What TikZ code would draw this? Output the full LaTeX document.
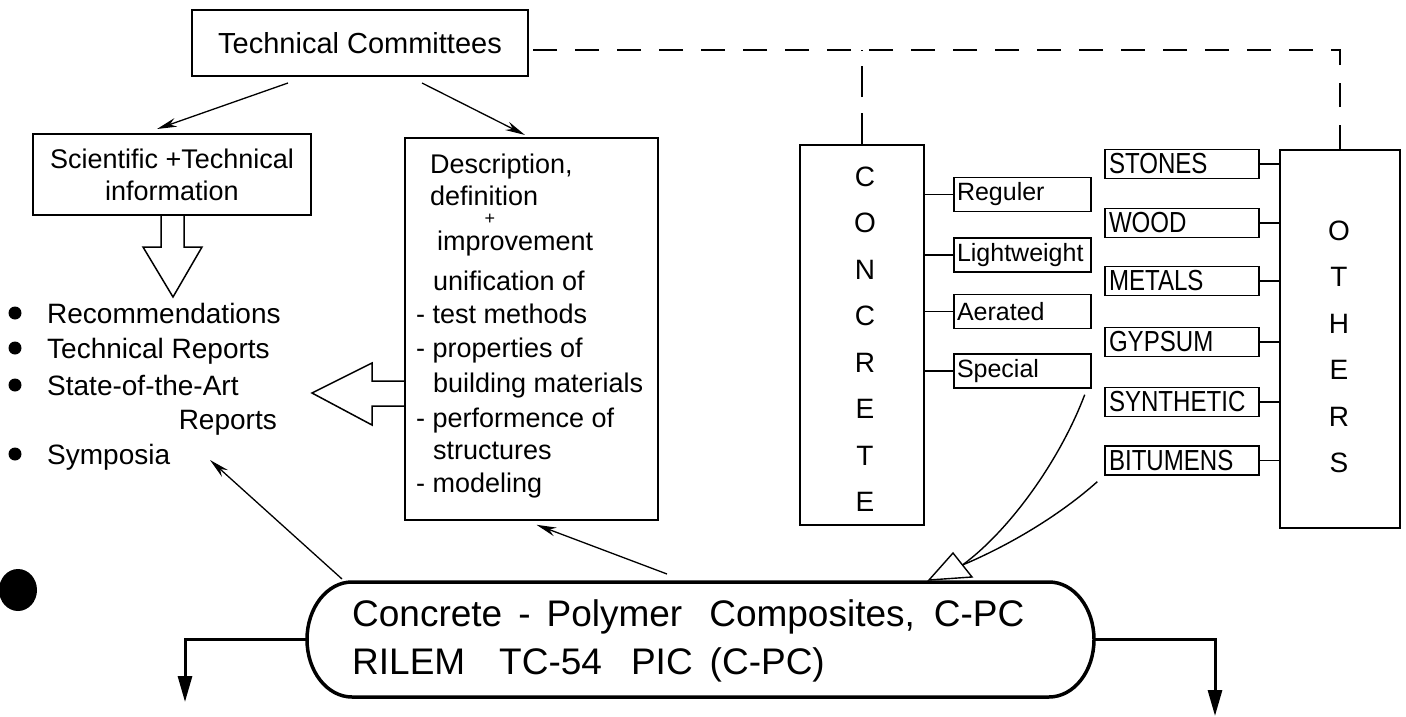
\documentclass[tikz,border=0pt]{standalone}
\usepackage{fontspec}
\setmainfont{Liberation Sans}
\newfontfamily\condf[FakeStretch=0.83]{Liberation Sans}
\usetikzlibrary{arrows.meta,calc}
\begin{document}
\begin{tikzpicture}[x=1pt,y=-1pt,
  box/.style={draw,line width=1.6pt,inner sep=0pt},
  dl/.style={inner sep=0pt,anchor=base west,font=\fontsize{27pt}{32pt}\selectfont},
  bl/.style={inner sep=0pt,anchor=base west,font=\fontsize{28pt}{32pt}\selectfont},
  bul/.style={circle,fill,inner sep=0pt,minimum size=13pt},
  csub/.style={draw,line width=1.4pt,minimum height=34pt,inner xsep=3pt,inner ysep=0pt,text width=131pt,align=left,font=\fontsize{25pt}{28pt}\selectfont},
  osub/.style={draw,line width=1.4pt,minimum height=29pt,inner xsep=4pt,inner ysep=0pt,text width=146pt,align=left,font=\condf\fontsize{29pt}{30pt}\selectfont},
  big/.style={inner sep=0pt,align=center,font=\fontsize{28pt}{46.5pt}\selectfont},
  link/.style={line width=1.4pt},
  thin/.style={line width=1.3pt,-{Stealth[length=20pt,width=9pt]}},
  thick/.style={line width=3pt,-{Triangle[length=26pt,width=14pt]}},
  dash1/.style={line width=1.6pt,dash pattern=on 24pt off 18pt},
  dash2/.style={line width=1.6pt,dash pattern=on 31pt off 16pt}]
\useasboundingbox (0,0) rectangle (1406,717);

% Technical Committees
\node[box,minimum width=336pt,minimum height=66pt,font=\fontsize{29pt}{34pt}\selectfont] (tc) at (360,43) {Technical Committees};

% Scientific + Technical information
\node[box,minimum width=278pt,minimum height=81pt,align=center,font=\fontsize{27pt}{32pt}\selectfont] (sci) at (172,174.5) {Scientific +Technical\\information};

% Description box
\node[box,minimum width=253pt,minimum height=382pt] (desc) at (531.5,329) {};
\node[dl] (d1) at (430,173) {Description,};
\node[dl] (d2) at (430,205) {definition};
\node[inner sep=0pt,font=\fontsize{18pt}{22pt}\selectfont] (d3) at (490,219) {+};
\node[dl] (d4) at (437,250) {improvement};
\node[dl] (d5) at (433,290) {unification of};
\node[dl] (d6) at (416,323) {- test methods};
\node[dl] (d7) at (416,357) {- properties of};
\node[dl] (d8) at (433,392) {building materials};
\node[dl] (d9) at (416,427) {- performence of};
\node[dl] (d10) at (433,459) {structures};
\node[dl] (d11) at (416,492) {- modeling};

% arrows from Technical Committees
\coordinate (t1) at (288,83);
\coordinate (t2) at (422,83);
\draw[thin] (t1) -- (157,129) coordinate (t1e);
\draw[thin] (t2) -- (525,135) coordinate (t2e);

% hollow arrow down
\draw[line width=1.5pt] (161,216) -- (161,247) -- (143,247) -- (173,297) -- (202,247) -- (184,247) -- (184,216);

% bullet list
\node[bul] (b1) at (15,313) {};
\node[bl] (r1) at (47,323) {Recommendations};
\node[bul] (b2) at (15,348) {};
\node[bl] (r2) at (47,358) {Technical Reports};
\node[bul] (b3) at (15,385) {};
\node[bl] (r3) at (47,395) {State-of-the-Art};
\node[bl,anchor=base east] (r3b) at (277,429) {Reports};
\node[bul] (b4) at (15,454) {};
\node[bl] (r4) at (47,464) {Symposia};

% hollow arrow left
\draw[line width=1.5pt] (desc.west |- 0,381) -- (372,381) -- (372,363) -- (312,393) -- (372,425) -- (372,406) -- (desc.west |- 0,406);

% CONCRETE
\node[box,minimum width=124pt,minimum height=380pt] (concrete) at (862,335) {};
\node[big] (cl) at (865,339) {C\\O\\N\\C\\R\\E\\T\\E};

% OTHERS
\node[box,minimum width=120pt,minimum height=378pt] (others) at (1340,339) {};
\node[big] (ol) at (1339,347) {O\\T\\H\\E\\R\\S};

% dashed links
\coordinate (dc) at (1340,50);
\draw[dash1] (others.north) -- (dc) -- (tc.east |- dc);
\draw[dash2] (concrete.north) -- (concrete.north |- dc);

% concrete sub boxes
\node[csub] (reg) at (1022.5,194.5) {Reguler};
\node[csub] (light) at (1022.5,255) {Lightweight};
\node[csub] (aer) at (1022.5,311.5) {Aerated};
\node[csub] (special) at (1022.5,371) {Special};
\foreach \n in {reg,light,aer,special} \draw[link] (\n.west) -- (\n.west -| concrete.east);

% others sub boxes
\node[osub] (stones) at (1182,164) {STONES};
\node[osub] (wood) at (1182,223) {WOOD};
\node[osub] (metals) at (1182,281) {METALS};
\node[osub] (gypsum) at (1182,342) {GYPSUM};
\node[osub] (synth) at (1182,402) {SYNTHETIC};
\node[osub] (bitumens) at (1182,460.5) {BITUMENS};
\foreach \n in {stones,wood,metals,gypsum,synth,bitumens} \draw[link] (\n.east) -- (\n.east -| others.west);

% Concrete - Polymer Composites oval
\node[minimum width=787pt,minimum height=115pt,inner sep=0pt] (cpc) at (700.5,639.5) {};
\draw[line width=3.5pt] (352,582) -- (1049,582) arc[start angle=-90,end angle=90,x radius=45,y radius=57.5]
  -- (352,697) arc[start angle=90,end angle=270,x radius=45,y radius=57.5] -- cycle;
\node[inner sep=0pt,anchor=base west,font=\fontsize{37pt}{44pt}\selectfont] (cpc1) at (352,626)
  {Concrete\hspace{16pt}-\hspace{16pt}Polymer\hspace{27pt}Composites,\hspace{19pt}C-PC};
\node[inner sep=0pt,anchor=base west,font=\fontsize{37pt}{44pt}\selectfont] (cpc2) at (352,674)
  {RILEM\hspace{34pt}TC-54\hspace{29pt}PIC\hspace{17pt}(C-PC)};

% curved arrows into oval
\coordinate (ahb) at (962.5,565);
\draw[link] ($(special.south east)+(-7,6)$) .. controls (1060,460) and (1010,530) .. (ahb);
\draw[link] ($(bitumens.south west)+(-7,6)$) .. controls (1060,515) and (1010,545) .. (ahb);
\draw[line width=1.4pt,fill=white] (929,580) -- (953,553) -- (972,577) -- cycle;

% arrows from oval
\coordinate (s1) at (342,579);
\coordinate (s2) at (667,574);
\draw[thin] (s1) -- (210,460) coordinate (s1e);
\draw[thin] (s2) -- ($(desc.south)+(5,4)$);

% bottom outputs
\coordinate (lout) at (185,702);
\coordinate (rout) at (1215,716);
\draw[thick] (cpc.west) -| (lout);
\draw[thick] (cpc.east) -| (rout);

% punch hole
\fill (18,590) ellipse[x radius=19,y radius=21];
\end{tikzpicture}
\end{document}
